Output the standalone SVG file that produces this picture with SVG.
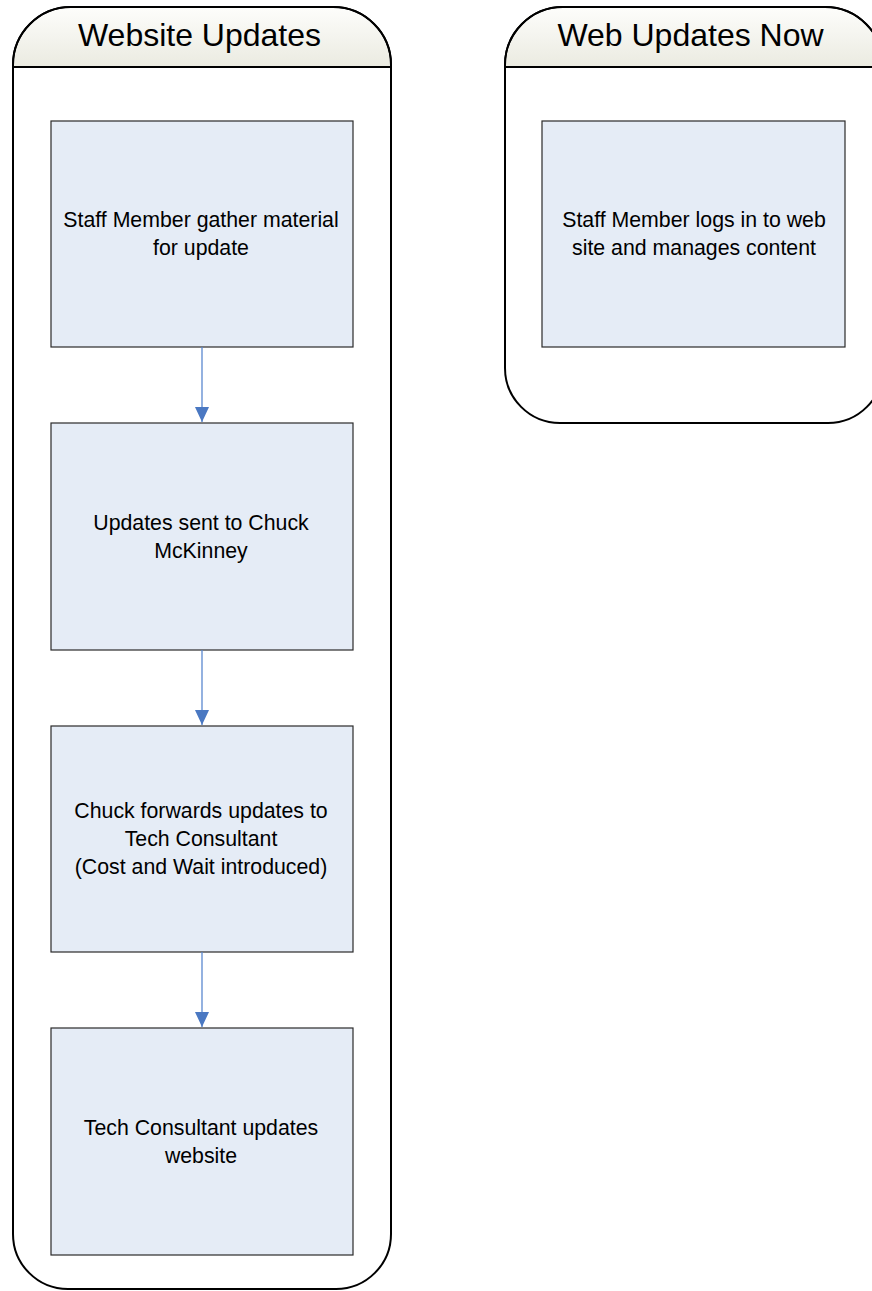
<svg xmlns="http://www.w3.org/2000/svg" width="872" height="1291" viewBox="0 0 872 1291">
  <defs>
    <linearGradient id="hdr" x1="0" y1="0" x2="0" y2="1">
      <stop offset="0" stop-color="#fdfdfb"/>
      <stop offset="1" stop-color="#ebebe1"/>
    </linearGradient>
    <marker id="arrow" viewBox="0 0 15 14" refX="15" refY="7" markerWidth="15" markerHeight="14" markerUnits="userSpaceOnUse" orient="auto">
      <path d="M0,0 L15,7 L0,14 Z" fill="#4a78c2"/>
    </marker>
  </defs>
  <style>
    .lane { fill: #ffffff; stroke: #000000; stroke-width: 2; }
    .edge { fill: none; stroke: #000000; stroke-width: 2; }
    .hdr { fill: url(#hdr); stroke: none; }
    .hline { stroke: #000000; stroke-width: 2; }
    .title { font-family: "Liberation Sans", Arial, sans-serif; font-size: 32px; fill: #000000; text-anchor: middle; }
    .box { fill: #e5ecf6; stroke: #2a2a2a; stroke-width: 1.2; }
    .lbl { font-family: "Liberation Sans", Arial, sans-serif; font-size: 21.3px; fill: #000000; text-anchor: middle; }
    .conn { stroke: #5a88cf; stroke-width: 1.3; fill: none; }
  </style>
  <rect width="872" height="1291" fill="#ffffff"/>

  <!-- Swimlane: Website Updates -->
  <g id="lane-website-updates">
    <path class="lane" d="M13,65 A58,58 0 0 1 71,7 L333,7 A58,58 0 0 1 391,65 L391,1234 A55,55 0 0 1 336,1289 L68,1289 A55,55 0 0 1 13,1234 Z"/>
    <path class="hdr" d="M14,66 L14,65 A57,57 0 0 1 71,8 L333,8 A57,57 0 0 1 390,65 L390,66 Z"/>
    <path class="edge" d="M13,67 L13,65 A58,58 0 0 1 71,7 L333,7 A58,58 0 0 1 391,65 L391,67"/>
    <line class="hline" x1="13" y1="67" x2="391" y2="67"/>
    <text class="title" x="199.5" y="46">Website Updates</text>
  </g>

  <!-- Swimlane: Web Updates Now -->
  <g id="lane-web-updates-now">
    <path class="lane" d="M505,65 A58,58 0 0 1 563,7 L825,7 A58,58 0 0 1 883,65 L883,368 A55,55 0 0 1 828,423 L560,423 A55,55 0 0 1 505,368 Z"/>
    <path class="hdr" d="M506,66 L506,65 A57,57 0 0 1 563,8 L825,8 A57,57 0 0 1 882,65 L882,66 Z"/>
    <path class="edge" d="M505,67 L505,65 A58,58 0 0 1 563,7 L825,7 A58,58 0 0 1 883,65 L883,67"/>
    <line class="hline" x1="505" y1="67" x2="883" y2="67"/>
    <text class="title" x="690.5" y="46">Web Updates Now</text>
  </g>

  <!-- Process steps -->
  <g id="step-gather">
    <rect class="box" x="51" y="121" width="302" height="226"/>
    <text class="lbl" x="201" y="227">Staff Member gather material</text>
    <text class="lbl" x="201" y="255">for update</text>
  </g>
  <g id="step-sent">
    <rect class="box" x="51" y="423" width="302" height="227"/>
    <text class="lbl" x="201" y="530">Updates sent to Chuck</text>
    <text class="lbl" x="201" y="558">McKinney</text>
  </g>
  <g id="step-forward">
    <rect class="box" x="51" y="726" width="302" height="226"/>
    <text class="lbl" x="201" y="818">Chuck forwards updates to</text>
    <text class="lbl" x="201" y="846">Tech Consultant</text>
    <text class="lbl" x="201" y="874">(Cost and Wait introduced)</text>
  </g>
  <g id="step-publish">
    <rect class="box" x="51" y="1028" width="302" height="227"/>
    <text class="lbl" x="201" y="1135">Tech Consultant updates</text>
    <text class="lbl" x="201" y="1163">website</text>
  </g>
  <g id="step-self-manage">
    <rect class="box" x="542" y="121" width="303" height="226"/>
    <text class="lbl" x="694" y="227">Staff Member logs in to web</text>
    <text class="lbl" x="694" y="255">site and manages content</text>
  </g>

  <!-- Connectors -->
  <g id="connectors">
    <line class="conn" x1="202" y1="347" x2="202" y2="422" marker-end="url(#arrow)"/>
    <line class="conn" x1="202" y1="650" x2="202" y2="725" marker-end="url(#arrow)"/>
    <line class="conn" x1="202" y1="952" x2="202" y2="1027" marker-end="url(#arrow)"/>
  </g>
</svg>
